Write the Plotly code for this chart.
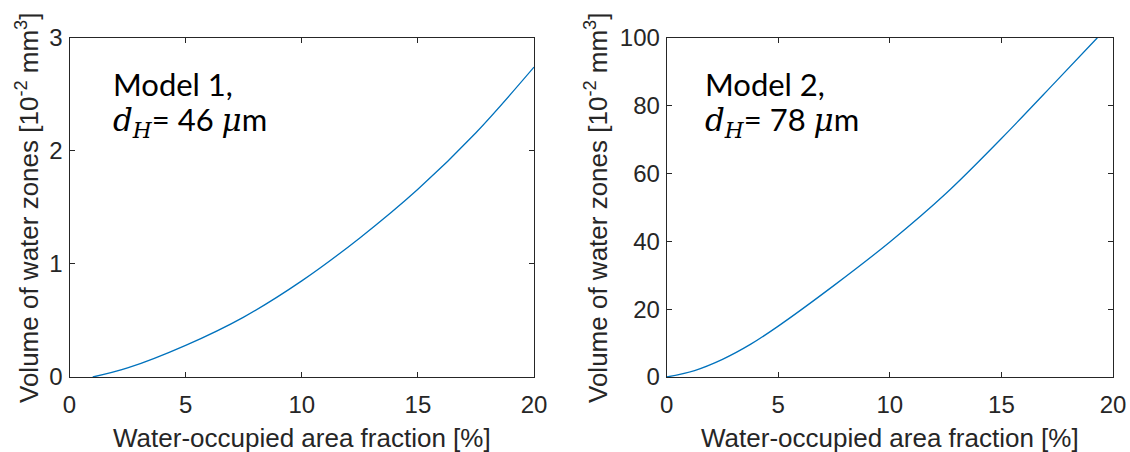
import plotly.graph_objects as go

# ---- data ----
x_model1 = [1.0, 2.5, 5.0, 7.5, 10.0, 12.5, 15.0, 17.5, 20.0]
y_model1 = [0.0, 0.08, 0.28, 0.53, 0.85, 1.23, 1.66, 2.16, 2.74]

x_model2 = [0.0, 1.25, 2.5, 3.75, 5.0, 7.5, 10.0, 12.5, 15.0, 17.5, 19.3]
y_model2 = [0.0, 1.9, 5.2, 9.6, 15.0, 27.0, 39.8, 54.0, 70.3, 87.5, 100.0]

x_ticks = [0, 5, 10, 15, 20]
y_ticks_1 = [0, 1, 2, 3]
y_ticks_2 = [0, 20, 40, 60, 80, 100]

x_title = "Water-occupied area fraction [%]"
y_title = "Volume of water zones [10<sup>-2</sup> mm<sup>3</sup>]"
label_1 = ("Model 1,", "46")
label_2 = ("Model 2,", "78")

W, H = 1130, 452
LINE = "#0072BD"
AX = "#262626"

def px(v):
    return v / W

def py(v):
    return 1 - v / H

fig = go.Figure()
fig.add_trace(go.Scatter(x=x_model1, y=y_model1, mode="lines", line=dict(color=LINE, width=1.3, shape="spline"),
                         xaxis="x", yaxis="y", showlegend=False))
fig.add_trace(go.Scatter(x=x_model2, y=y_model2, mode="lines", line=dict(color=LINE, width=1.3, shape="spline"),
                         xaxis="x2", yaxis="y2", showlegend=False))

axis_common = dict(showgrid=False, zeroline=False, showline=True, linecolor=AX, linewidth=1,
                   mirror="ticks", ticks="inside", ticklen=5, tickcolor=AX, tickwidth=1,
                   tickfont=dict(family="Liberation Sans, Arial", size=24, color=AX))

ydom = [py(377), py(37.7)]
fig.update_layout(
    width=W, height=H, margin=dict(l=0, r=0, t=0, b=0),
    paper_bgcolor="white", plot_bgcolor="white", template="none",
    xaxis=dict(domain=[px(69.5), px(534)], range=[0, 20], tickvals=x_ticks, anchor="y",
               ticklabelstandoff=6, **axis_common),
    yaxis=dict(domain=ydom, range=[0, 3], tickvals=y_ticks_1, anchor="x",
               ticklabelstandoff=1, **axis_common),
    xaxis2=dict(domain=[px(666.7), px(1113)], range=[0, 20], tickvals=x_ticks, anchor="y2",
                ticklabelstandoff=6, **axis_common),
    yaxis2=dict(domain=ydom, range=[0, 100], tickvals=y_ticks_2, anchor="x2",
                ticklabelstandoff=1, **axis_common),
)

title_font = dict(family="Liberation Sans, Arial", size=26, color=AX)
ann = []
for cx, ycx in [((69.5 + 534) / 2, 27), ((666.7 + 1113) / 2, 596)]:
    ann.append(dict(text=x_title, x=px(cx), y=py(438), xref="paper", yref="paper",
                    xanchor="center", yanchor="middle", showarrow=False, font=title_font))
    ann.append(dict(text=y_title, x=px(ycx), y=py(208), xref="paper", yref="paper",
                    xanchor="center", yanchor="middle", textangle=-90, showarrow=False, font=title_font))

label_font = dict(family="Lato, Noto Sans", size=31, color="black")
for x0, (l1, num) in [(111, label_1), (703, label_2)]:
    ann.append(dict(text=l1, x=px(x0), y=py(84), xref="paper", yref="paper",
                    xanchor="left", yanchor="middle", showarrow=False, font=label_font))
    line2 = ('<span style="font-family:\'DejaVu Serif\'"><i>d</i><sub><i>H</i></sub></span>= ' + num +
             ' <span style="font-family:\'DejaVu Serif\'"><i>μ</i></span>m')
    ann.append(dict(text=line2, x=px(x0), y=py(121), xref="paper", yref="paper",
                    xanchor="left", yanchor="middle", showarrow=False, font=label_font))
fig.update_layout(annotations=ann)

fig.write_html("out.html", config={"displayModeBar": False},
               post_script="document.body.style.margin='0';document.body.style.padding='0';")
